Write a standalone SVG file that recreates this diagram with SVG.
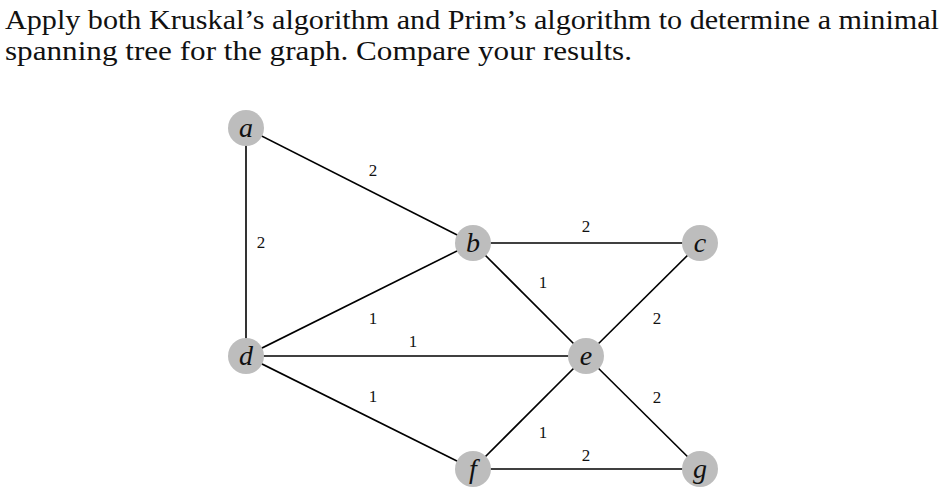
<svg xmlns="http://www.w3.org/2000/svg" width="945" height="494" viewBox="0 0 945 494">
<style>
.title{font-family:"Liberation Serif","DejaVu Serif",serif;font-size:27px;fill:#111}
.w{font-family:"Liberation Serif","DejaVu Serif",serif;font-size:17px;fill:#111;text-anchor:middle}
.n circle{fill:#bdbdbd}
.n text{font-family:"Liberation Serif","DejaVu Serif",serif;font-style:italic;font-size:28px;fill:#111;text-anchor:middle}
.e line{stroke:#000;stroke-width:1.6}
</style>
<rect width="945" height="494" fill="#fff"/>
<text class="title" x="5" y="29" textLength="934" lengthAdjust="spacingAndGlyphs">Apply both Kruskal’s algorithm and Prim’s algorithm to determine a minimal</text>
<text class="title" x="5" y="60" textLength="627" lengthAdjust="spacingAndGlyphs">spanning tree for the graph. Compare your results.</text>
<g id="edges" class="e">
<line x1="246" y1="128" x2="473" y2="243"/>
<line x1="246" y1="128" x2="246" y2="356"/>
<line x1="473" y1="243" x2="700" y2="243"/>
<line x1="473" y1="243" x2="586" y2="356"/>
<line x1="246" y1="356" x2="473" y2="243"/>
<line x1="246" y1="356" x2="586" y2="356"/>
<line x1="246" y1="356" x2="473" y2="469"/>
<line x1="700" y1="243" x2="586" y2="356"/>
<line x1="586" y1="356" x2="700" y2="469"/>
<line x1="586" y1="356" x2="473" y2="469"/>
<line x1="473" y1="469" x2="700" y2="469"/>
</g>
<g id="weights">
<text class="w" x="373" y="176">2</text>
<text class="w" x="261" y="248">2</text>
<text class="w" x="586" y="232">2</text>
<text class="w" x="543" y="288">1</text>
<text class="w" x="373" y="324">1</text>
<text class="w" x="413" y="347">1</text>
<text class="w" x="657" y="324">2</text>
<text class="w" x="373" y="402">1</text>
<text class="w" x="657" y="403">2</text>
<text class="w" x="543" y="438">1</text>
<text class="w" x="586" y="461">2</text>
</g>
<g id="node-a" class="n"><circle cx="246" cy="128" r="18"/><text x="246" y="137">a</text></g>
<g id="node-b" class="n"><circle cx="473" cy="243" r="18"/><text x="473" y="252">b</text></g>
<g id="node-c" class="n"><circle cx="700" cy="243" r="18"/><text x="700" y="252">c</text></g>
<g id="node-d" class="n"><circle cx="246" cy="356" r="18"/><text x="246" y="365">d</text></g>
<g id="node-e" class="n"><circle cx="586" cy="356" r="18"/><text x="586" y="365">e</text></g>
<g id="node-f" class="n"><circle cx="473" cy="469" r="18"/><text x="473" y="478">f</text></g>
<g id="node-g" class="n"><circle cx="700" cy="469" r="18"/><text x="700" y="478">g</text></g>
</svg>
